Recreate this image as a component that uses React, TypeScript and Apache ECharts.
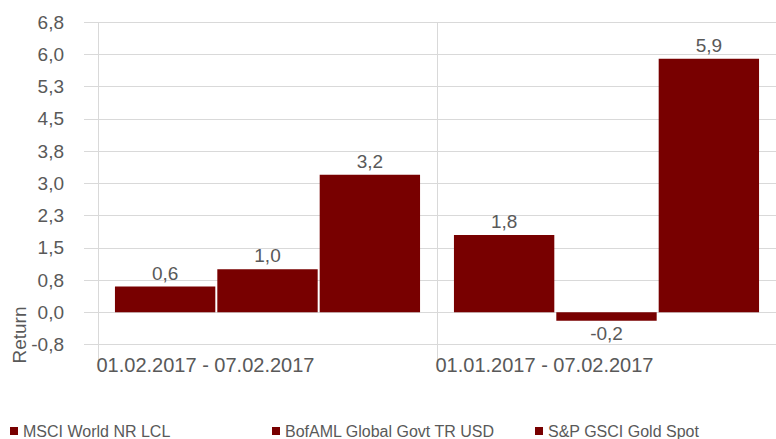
import React, { useEffect, useRef } from "react";
import * as echarts from "echarts";

const categories = ["01.02.2017 - 07.02.2017", "01.01.2017 - 07.02.2017"];
const seriesNames = ["MSCI World NR LCL", "BofAML Global Govt TR USD", "S&P GSCI Gold Spot"];
const msciValues = [0.6, 1.8];
const bofamlValues = [1.0, -0.2];
const goldValues = [3.2, 5.9];
const axisMin = -0.75;
const axisMax = 6.75;
const axisStep = 0.75;

const BAR = "#780000";
const TXT = "#595959";
const GRID = "#d9d9d9";
const FONT = "'Liberation Sans', Arial, sans-serif";

const fmt = (v: number) => (Math.round(v * 1000) / 1000).toFixed(1).replace(".", ",");

export default function App() {
  const ref = useRef<HTMLDivElement>(null);
  useEffect(() => {
    if (!ref.current) return;
    const chart = echarts.init(ref.current, undefined, { renderer: "svg" });
    const allValues = [msciValues, bofamlValues, goldValues];
    const legendLefts = [10, 272, 535];
    chart.setOption({
      animation: false,
      textStyle: { fontFamily: FONT },
      grid: { left: 98, right: -6, top: 22.3, bottom: 94.5, containLabel: false },
      legend: seriesNames.map((n, i) => ({
        data: [n],
        left: legendLefts[i],
        top: 423,
        padding: 0,
        icon: "rect",
        itemWidth: 8,
        itemHeight: 8,
        itemGap: 4,
        textStyle: { color: TXT, fontSize: 16, fontFamily: FONT },
      })),
      xAxis: {
        type: "category",
        data: categories,
        axisLine: { show: true, lineStyle: { color: GRID } },
        axisTick: { show: true, length: 50, lineStyle: { color: GRID } },
        splitLine: { show: true, lineStyle: { color: GRID } },
        axisLabel: {
          margin: 10,
          color: TXT,
          fontSize: 20,
          fontFamily: FONT,
          formatter: (v: string) => "{a|" + v + "}",
          rich: { a: { width: 342, align: "left", fontSize: 20, color: TXT, fontFamily: FONT } },
        },
      },
      yAxis: {
        type: "value",
        min: axisMin,
        max: axisMax,
        interval: axisStep,
        axisLine: { show: false },
        axisTick: { show: true, length: 14, lineStyle: { color: GRID } },
        splitLine: { show: true, lineStyle: { color: GRID } },
        axisLabel: { color: TXT, fontSize: 19, fontFamily: FONT, margin: 34, formatter: fmt },
      },
      graphic: [
        {
          type: "text",
          x: 19,
          y: 335,
          rotation: Math.PI / 2,
          style: {
            text: "Return",
            fill: TXT,
            font: "19px " + FONT,
            align: "center",
            verticalAlign: "middle",
          },
        },
      ],
      series: seriesNames.map((n, i) => ({
        name: n,
        type: "bar",
        barCategoryGap: "10%",
        barGap: "2%",
        itemStyle: { color: BAR },
        label: {
          show: true,
          position: "top",
          distance: 4,
          color: TXT,
          fontSize: 19,
          fontFamily: FONT,
          formatter: (p: any) => fmt(p.value),
        },
        data: allValues[i].map((v) =>
          v < 0 ? { value: v, label: { position: "bottom", distance: 3 } } : v
        ),
      })),
    });
    return () => chart.dispose();
  }, []);
  return (
    <div
      ref={ref}
      style={{ position: "absolute", left: 0, top: 0, width: 776, height: 439 }}
    />
  );
}
